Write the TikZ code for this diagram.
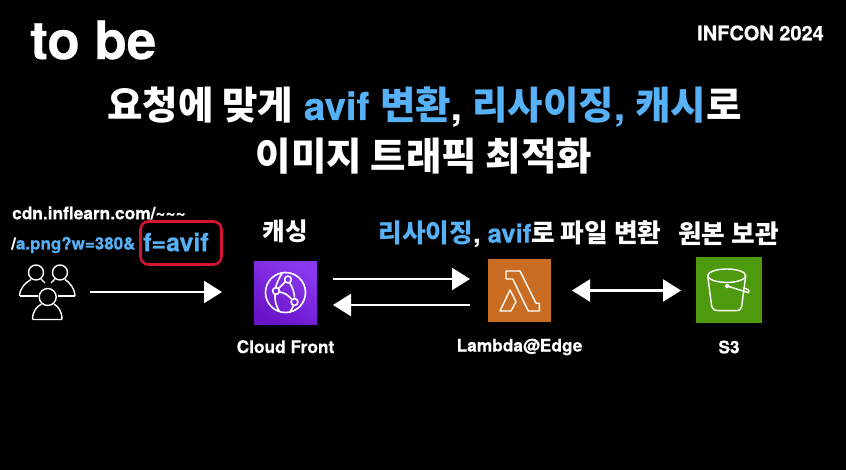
\documentclass[tikz,border=0pt]{standalone}
\usepackage{fontspec}
\setmainfont{TeX Gyre Heros}[BoldFeatures={FakeBold=0.5}]
\newfontfamily\cjk{Noto Sans CJK KR}
\usetikzlibrary{positioning,arrows.meta}
\definecolor{skyblue}{HTML}{56B1F7}
\definecolor{cftop}{HTML}{8A38F0}
\definecolor{cfbottom}{HTML}{6A14C8}
\definecolor{lambdaorange}{HTML}{C96D24}
\definecolor{bucketgreen}{HTML}{4E9A0E}
\definecolor{markred}{HTML}{D5142F}
\newcommand{\ko}[1]{{\cjk\bfseries #1}}
\newcommand{\bl}[1]{\textcolor{skyblue}{#1}}
\tikzset{
  txt/.style={text=white,inner sep=0pt,font=\bfseries\fontsize{#1}{#1}\selectfont},
  icon/.style={minimum size=#1,inner sep=0pt,outer sep=0pt},
  glyph/.style={draw=white,line width=1.4pt,line join=round},
  flow/.style={draw=white,line width=2.4pt,-{Triangle[width=22pt,length=18pt]}},
  flowboth/.style={draw=white,line width=2.4pt,{Triangle[width=22pt,length=18pt]}-{Triangle[width=22pt,length=18pt]}}
}
\begin{document}
\begin{tikzpicture}[x=1pt,y=-1pt]
  \fill[black] (0,0) rectangle (846,470);
  \useasboundingbox (0,0) rectangle (846,470);

  \node[txt=53,anchor=west] (tobe) at (30,40) {to be};
  \node[txt=20,anchor=east] (infcon) at (824,33) {INFCON 2024};
  \node[txt=38.5] (line1) at (424.5,107) {\ko{요청에 맞게} \bl{avif \ko{변환}}, \bl{\ko{리사이징}, \ko{캐시}}\ko{로}};
  \node[txt=38.5] (line2) at (424,156) {\ko{이미지 트래픽 최적화}};

  \node[txt=17.3,anchor=west] (cdn) at (12,213) {cdn.inflearn.com/\raisebox{1pt}{\textasciitilde\textasciitilde\textasciitilde}};
  \node[txt=17,anchor=west] (url) at (11,245) {/\bl{a.png?w=380\&}};
  \node[txt=25,anchor=west,text=skyblue] (favif) at (143,242) {f=avif};
  \node[draw=markred,line width=2.6pt,rounded corners=8pt,minimum width=81pt,minimum height=43pt,inner sep=0pt] (mark) at (181,243) {};

  % icons
  \node[icon=58pt] (users) at (47,292) {};
  \node[icon=63pt,top color=cftop,bottom color=cfbottom,shading angle=-30] (cf) at (285.5,293.5) {};
  \node[icon=63pt,fill=lambdaorange] (lambda) at (519.5,290.5) {};
  \node[icon=66pt,fill=bucketgreen] (s3) at (729,290) {};

  % labels
  \node[txt=24.5,above=19pt of cf] (cache) {\ko{캐싱}};
  \node[txt=25.7] (resize) at (520,234) {\bl{\ko{리사이징}}, \bl{avif}\ko{로 파일 변환}};
  \node[txt=25.7] (origin) at (728.5,234) {\ko{원본 보관}};
  \node[txt=17.3,below=15pt of cf] (cfname) {Cloud Front};
  \node[txt=17.3] (lambdaname) at (519.5,347) {Lambda@Edge};
  \node[txt=17.3] (s3name) at (729,347) {S3};

  % connectors
  \draw[flow,shorten <=14pt,shorten >=32pt] (users.east) -- (users.east -| cf.west);
  \draw[flow] ([xshift=16pt,yshift=14.5pt]cf.east) -- ([xshift=-18pt,yshift=11.5pt]lambda.west);
  \draw[flow] ([xshift=-18pt,yshift=-14.5pt]lambda.west) -- ([xshift=16pt,yshift=-11.5pt]cf.east);
  \draw[flowboth,shorten <=21pt,shorten >=15pt] (lambda.east) -- (lambda.east -| s3.west);

  % people
  \begin{scope}[shift={(users.center)},glyph]
    \draw (-11,-19.5) circle (7.5);
    \draw (13,-19.5) circle (7.5);
    \draw (-27.5,4) .. controls (-27,-4) and (-22,-9) .. (-16,-12.5);
    \draw (-27.5,4) -- (-9,4);
    \draw (28,4) .. controls (27.5,-4) and (23,-9) .. (18,-12.5);
    \draw (28,4) -- (11,4);
    \draw (-6,-13) -- (-2,-9);
    \draw (8,-13) -- (4,-9);
    \draw (0.7,5) circle (8.5);
    \draw (-14.5,27.5) .. controls (-14.5,19) and (-10,14.5) .. (-5.5,12)
          (15,27.5) .. controls (15,19) and (11,14.5) .. (7,12)
          (-14.5,27.5) -- (15,27.5);
  \end{scope}

  % cloudfront
  \begin{scope}[shift={(cf.center)},glyph,line width=1.6pt]
    \draw (0,-1) circle (20);
    \draw (4,-11) .. controls (7,-6) and (9,-1) .. (9,4);
    \draw (-7,-5) -- (0,-12);
    \draw (-6,-1.5) .. controls (-1,-1) and (3,2) .. (6,5.5);
    \draw (-10.5,1) .. controls (-11,8) and (-9,13) .. (-6,18);
    \draw (-3,-21) .. controls (-7,-15) and (-9,-9) .. (-10,-6);
    \draw (8,12) .. controls (7.5,14) and (6,16) .. (4,19);
    \draw (2.5,-14) circle (3.4);
    \draw (-9.5,-2.5) circle (3.4);
    \draw (9,8.5) circle (3.4);
  \end{scope}

  % lambda
  \begin{scope}[shift={(lambda.center)},glyph]
    \draw (-13.5,-19.5) -- (0.5,-19.5) -- (16.5,12.8) -- (19.8,12.8) -- (19.8,20.5) -- (8.8,20.5) -- (-6.8,-11.5) -- (-13.5,-11.5) -- cycle;
    \draw (-19.5,20.5) -- (-9.5,-0.5) -- (-3.5,11.2) -- (-8.5,20.5) -- cycle;
  \end{scope}

  % bucket
  \begin{scope}[shift={(s3.center)},glyph]
    \draw (-2.3,-14.3) ellipse (19 and 6.7);
    \draw (-21.3,-14.3) -- (-17.3,16.5) .. controls (-17,19.5) and (-14,20.7) .. (-11,20.7) -- (6.5,20.7) .. controls (10,20.7) and (12.5,19.5) .. (12.7,16.5) -- (16.7,-14.3);
    \draw[fill=white] (-1.7,-4) circle (1.6);
    \draw (-1.7,-4) -- (19.3,2.7) .. controls (21,1) and (19,-1) .. (14.5,-2.2);
  \end{scope}
\end{tikzpicture}
\end{document}
